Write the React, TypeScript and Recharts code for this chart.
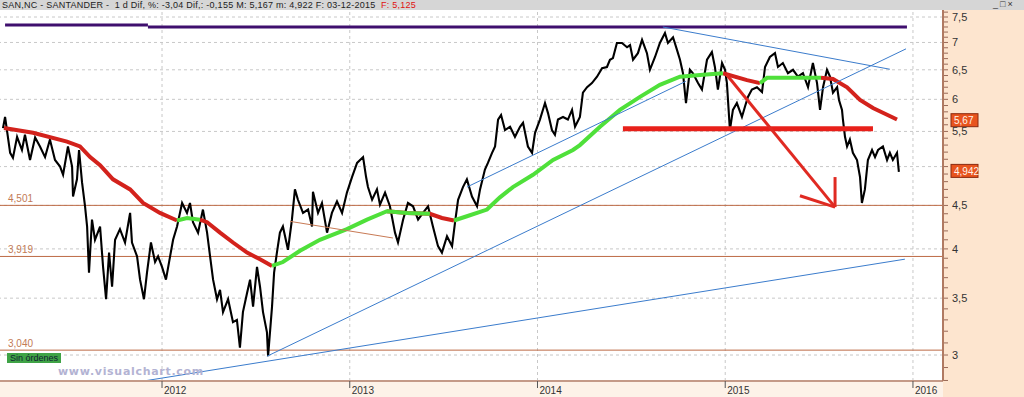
import React from "react"
import { ComposedChart, Line, XAxis, YAxis, ReferenceLine, ReferenceDot } from "recharts"

const W = 1024
const H = 397

// dates as decimal years, closes (roughly weekly)
const priceDates = [
  2011.153, 2011.164, 2011.191, 2011.206, 2011.228, 2011.254, 2011.27, 2011.297, 2011.324, 2011.35,
  2011.377, 2011.403, 2011.43, 2011.457, 2011.473, 2011.499, 2011.521, 2011.526, 2011.547, 2011.558,
  2011.574, 2011.59, 2011.601, 2011.611, 2011.627, 2011.643, 2011.67, 2011.686, 2011.702, 2011.718,
  2011.734, 2011.75, 2011.776, 2011.803, 2011.83, 2011.84, 2011.867, 2011.883, 2011.904, 2011.92,
  2011.941, 2011.963, 2011.979, 2012.0, 2012.021, 2012.043, 2012.059, 2012.08, 2012.107, 2012.133,
  2012.149, 2012.165, 2012.192, 2012.218, 2012.24, 2012.256, 2012.272, 2012.293, 2012.309, 2012.325,
  2012.352, 2012.378, 2012.399, 2012.415, 2012.431, 2012.453, 2012.469, 2012.485, 2012.506, 2012.522,
  2012.538, 2012.559, 2012.565, 2012.586, 2012.597, 2012.612, 2012.628, 2012.644, 2012.671, 2012.692,
  2012.708, 2012.724, 2012.751, 2012.778, 2012.799, 2012.804, 2012.831, 2012.852, 2012.879, 2012.905,
  2012.932, 2012.959, 2012.985, 2013.012, 2013.039, 2013.071, 2013.087, 2013.097, 2013.119, 2013.145,
  2013.161, 2013.188, 2013.214, 2013.241, 2013.257, 2013.284, 2013.31, 2013.337, 2013.364, 2013.39,
  2013.417, 2013.443, 2013.47, 2013.491, 2013.518, 2013.545, 2013.561, 2013.577, 2013.603, 2013.624,
  2013.651, 2013.678, 2013.694, 2013.72, 2013.736, 2013.758, 2013.774, 2013.79, 2013.806, 2013.827,
  2013.854, 2013.88, 2013.907, 2013.923, 2013.949, 2013.971, 2013.987, 2014.013, 2014.04, 2014.056,
  2014.077, 2014.093, 2014.109, 2014.136, 2014.162, 2014.184, 2014.2, 2014.226, 2014.242, 2014.264,
  2014.29, 2014.317, 2014.344, 2014.37, 2014.386, 2014.402, 2014.423, 2014.45, 2014.477, 2014.493,
  2014.509, 2014.535, 2014.557, 2014.583, 2014.599, 2014.626, 2014.652, 2014.679, 2014.695, 2014.722,
  2014.743, 2014.759, 2014.775, 2014.791, 2014.812, 2014.828, 2014.855, 2014.876, 2014.903, 2014.929,
  2014.945, 2014.961, 2014.983, 2014.999, 2015.009, 2015.025, 2015.041, 2015.062, 2015.089, 2015.105,
  2015.121, 2015.142, 2015.169, 2015.196, 2015.212, 2015.238, 2015.265, 2015.281, 2015.307, 2015.334,
  2015.361, 2015.387, 2015.414, 2015.441, 2015.467, 2015.489, 2015.505, 2015.521, 2015.542, 2015.558,
  2015.574, 2015.596, 2015.606, 2015.622, 2015.627, 2015.638, 2015.649, 2015.664, 2015.68, 2015.702,
  2015.718, 2015.728, 2015.744, 2015.76, 2015.782, 2015.798, 2015.814, 2015.84, 2015.862, 2015.877,
  2015.893, 2015.915, 2015.925,
]
const priceClose = [
  5.55, 5.72, 5.19, 5.12, 5.42, 5.23, 5.45, 5.09, 5.41, 5.28,
  5.13, 5.38, 5.09, 5.0, 4.89, 5.28, 5.0, 4.61, 4.83, 5.23,
  4.79, 4.49, 4.25, 3.75, 4.33, 4.1, 4.25, 3.81, 3.49, 3.96,
  3.61, 4.1, 4.22, 4.07, 4.41, 4.07, 3.92, 3.68, 3.49, 3.75,
  4.07, 3.86, 3.92, 3.81, 3.68, 3.92, 4.1, 4.25, 4.53, 4.41,
  4.53, 4.3, 4.18, 4.45, 4.18, 3.92, 3.68, 3.49, 3.58, 3.37,
  3.49, 3.28, 3.3, 3.06, 3.37, 3.55, 3.68, 3.42, 3.81, 3.61,
  3.37, 3.19, 2.99, 3.42, 3.75, 3.96, 4.18, 4.25, 3.99, 4.33,
  4.7, 4.57, 4.41, 4.45, 4.25, 4.67, 4.41, 4.53, 4.18, 4.41,
  4.55, 4.41, 4.66, 4.86, 5.05, 5.13, 4.86, 4.73, 4.57, 4.7,
  4.51, 4.66, 4.49, 4.18, 4.07, 4.33, 4.53, 4.49, 4.33, 4.41,
  4.49, 4.25, 4.03, 3.96, 4.14, 4.03, 4.3, 4.57, 4.73, 4.83,
  4.61, 4.49, 4.7, 4.96, 5.05, 5.19, 5.28, 5.68, 5.75, 5.52,
  5.57, 5.42, 5.57, 5.63, 5.28, 5.19, 5.48, 5.68, 5.94, 5.78,
  5.52, 5.45, 5.68, 5.72, 5.68, 5.83, 5.57, 5.72, 6.11, 6.2,
  6.27, 6.38, 6.53, 6.55, 6.68, 6.71, 6.99, 6.99, 6.91, 6.95,
  6.68, 6.8, 7.05, 6.8, 6.5, 6.73, 6.99, 7.18, 6.99, 7.1,
  6.86, 6.68, 6.44, 5.94, 6.5, 6.44, 6.27, 6.16, 6.68, 6.82,
  6.55, 6.16, 6.62, 6.5, 6.27, 5.52, 5.83, 5.94, 5.72, 5.88,
  6.04, 6.16, 6.2, 6.12, 6.55, 6.73, 6.8, 6.55, 6.62, 6.44,
  6.5, 6.38, 6.44, 6.2, 6.62, 6.27, 5.83, 6.2, 6.5, 6.38,
  6.11, 6.2, 5.99, 5.83, 5.68, 5.42, 5.28, 5.38, 5.19, 5.09,
  4.86, 4.53, 4.7, 5.09, 5.23, 5.13, 5.23, 5.28, 5.09, 5.19,
  5.09, 5.19, 4.93,
]

// moving average, with the trend flag of each leg (u = price above, d = below)
const maDates = [
  2011.158, 2011.313, 2011.494, 2011.563, 2011.617, 2011.67, 2011.739, 2011.83, 2011.899, 2011.989,
  2012.08, 2012.133, 2012.202, 2012.24, 2012.309, 2012.378, 2012.453, 2012.522, 2012.586, 2012.644,
  2012.735, 2012.841, 2012.985, 2013.092, 2013.198, 2013.305, 2013.427, 2013.491, 2013.555, 2013.624,
  2013.731, 2013.8, 2013.869, 2013.976, 2014.083, 2014.189, 2014.226, 2014.333, 2014.439, 2014.546,
  2014.652, 2014.759, 2014.865, 2014.988, 2015.116, 2015.185, 2015.223, 2015.361, 2015.51, 2015.574,
  2015.649, 2015.718, 2015.787, 2015.851, 2015.915,
]
const maValues = [
  5.55, 5.48, 5.35, 5.28, 5.13, 5.02, 4.83, 4.7, 4.53, 4.41,
  4.32, 4.35, 4.33, 4.3, 4.18, 4.07, 3.96, 3.89, 3.82, 3.86,
  3.98, 4.1, 4.22, 4.33, 4.43, 4.41, 4.4, 4.35, 4.32, 4.37,
  4.45, 4.6, 4.73, 4.89, 5.09, 5.23, 5.3, 5.57, 5.83, 6.04,
  6.24, 6.38, 6.41, 6.44, 6.32, 6.27, 6.36, 6.36, 6.36, 6.34,
  6.2, 5.99, 5.86, 5.77, 5.68,
]
const maTrend = [
  "d", "d", "d", "d", "d", "d", "d", "d", "d", "d",
  "u", "u", "d", "d", "d", "d", "d", "d", "u", "u",
  "u", "u", "u", "u", "d", "u", "d", "d", "u", "u",
  "u", "u", "u", "u", "u", "u", "u", "u", "u", "u",
  "u", "u", "u", "d", "d", "u", "u", "u", "d", "d",
  "d", "d", "d", "d", "d",
]

// drawn lines: [date1, price1, date2, price2]
const blueTrends = [
  [2011.92, 2.8, 2015.957, 3.89],
  [2012.559, 2.99, 2015.963, 6.88],
  [2013.624, 4.73, 2014.79, 6.3],
  [2014.668, 7.3, 2015.877, 6.51],
]
const brownTrend = [2012.682, 4.31, 2013.23, 4.12]
const purpleLevels = [
  [2011.164, 7.34, 2011.925, 7.34],
  [2011.925, 7.3, 2015.968, 7.3],
]
const supportLine = [2014.455, 5.54, 2015.787, 5.54]
const arrowLines = [
  [2015.009, 6.41, 2015.585, 4.48],
  [2015.585, 4.48, 2015.585, 4.86],
  [2015.585, 4.48, 2015.398, 4.62],
]
const levels = [4.501, 3.919, 3.04]
const levelLabels = ["4,501", "3,919", "3,040"]

const yTicks = [
  2.8, 2.9, 3, 3.1, 3.2, 3.3, 3.4, 3.5, 3.6, 3.7, 3.8, 3.9, 4, 4.1, 4.2, 4.3, 4.4, 4.5, 4.6, 4.7,
  4.8, 4.9, 5, 5.1, 5.2, 5.3, 5.4, 5.5, 5.6, 5.7, 5.8, 5.9, 6, 6.1, 6.2, 6.3, 6.4, 6.5, 6.6, 6.7,
  6.8, 6.9, 7, 7.1, 7.2, 7.3, 7.4, 7.5, 7.6,
]
// "5" sits under the last-price badge, so it is not written
const yLabelled = [3, 3.5, 4, 4.5, 5.5, 6, 6.5, 7, 7.5]
const yGrid = [3, 3.5, 4, 4.5, 5, 5.5, 6, 6.5, 7, 7.5]
const xTicks = [2012, 2013, 2014, 2015, 2016]

const lastMa = 5.67
const lastPrice = 4.942

const priceRows = priceDates.map((t, i) => ({ t, v: priceClose[i] }))
const maRows = maDates.map((t, i) => {
  const up = maTrend[i] === "u" || maTrend[i - 1] === "u"
  const down = maTrend[i] === "d" || maTrend[i - 1] === "d"
  return { t, up: up ? maValues[i] : null, down: down ? maValues[i] : null }
})

const fmt = (v: number) => String(v).replace(".", ",")

const YTick = ({ x, y, payload }: any) => {
  const labelled = yLabelled.some((m) => Math.abs(m - payload.value) < 1e-6)
  return (
    <g>
      <line x1={x + 1} x2={x + 5} y1={y} y2={y} stroke="#9a6a58" strokeWidth={1} />
      {labelled && (
        <text x={x + 9} y={y + 4} fontSize={11} fill="#333" fontFamily="Liberation Sans, Arial, sans-serif">
          {fmt(payload.value)}
        </text>
      )}
    </g>
  )
}

const XTick = ({ x, y, payload }: any) => (
  <g>
    <line x1={x} x2={x} y1={y} y2={y + 7} stroke="#555" />
    <text x={x + 2} y={y + 13} fontSize={10} fill="#333" fontFamily="Liberation Sans, Arial, sans-serif">
      {payload.value}
    </text>
  </g>
)

const seg = (s: number[]) => [
  { x: s[0], y: s[1] },
  { x: s[2], y: s[3] },
]

const Badge = ({ cx, cy, text }: any) => (
  <g>
    <rect x={cx + 8} y={cy - 6.5} width={27} height={13} fill="#e8541e" stroke="#8a2a10" />
    <text x={cx + 11} y={cy + 4} fontSize={10} fill="#fff3e8" fontFamily="Liberation Sans, Arial, sans-serif">
      {text}
    </text>
  </g>
)

export default function App() {
  return (
    <div
      style={{
        position: "fixed",
        left: 0,
        top: 0,
        width: W,
        height: H,
        background: "#fff",
        overflow: "hidden",
        fontFamily: '"Liberation Sans", Arial, sans-serif',
      }}
    >
      <div style={{ position: "absolute", left: 943, top: 10, width: 81, height: 387, background: "#fde5cf" }} />
      <div style={{ position: "absolute", left: 0, top: 381, width: 943, height: 16, background: "#fdf2e8" }} />
      <ComposedChart
        width={W}
        height={H}
        margin={{ top: 10, right: 0, bottom: 0, left: 0 }}
        style={{ position: "absolute", left: 0, top: 0 }}
      >
        <XAxis
          type="number"
          dataKey="t"
          domain={[2011.137, 2016.16]}
          allowDataOverflow
          ticks={xTicks}
          interval={0}
          height={16}
          tickSize={0}
          tickMargin={0}
          axisLine={{ stroke: "#c49a88", strokeWidth: 2 }}
          tickLine={false}
          tick={<XTick />}
        />
        <YAxis
          orientation="right"
          scale="log"
          domain={[2.796, 7.644]}
          allowDataOverflow
          ticks={yTicks}
          interval={0}
          width={81}
          tickSize={0}
          tickMargin={0}
          axisLine={{ stroke: "#b07a62", strokeWidth: 2 }}
          tickLine={false}
          tick={<YTick />}
        />

        {yGrid.map((v) => (
          <ReferenceLine key={"gy" + v} y={v} stroke="#c8c8c8" strokeDasharray="3 3" />
        ))}
        {xTicks.map((t) => (
          <ReferenceLine key={"gx" + t} x={t} stroke="#c8c8c8" strokeDasharray="3 3" />
        ))}
        {levels.map((v, i) => (
          <ReferenceLine
            key={"lv" + v}
            y={v}
            stroke="#bd6a45"
            strokeWidth={1}
            label={(p: any) => (
              <text x={p.viewBox.x + 8} y={p.viewBox.y - 3} fontSize={10} fill="#c27a55">
                {levelLabels[i]}
              </text>
            )}
          />
        ))}
        {purpleLevels.map((s, i) => (
          <ReferenceLine key={"pl" + i} segment={seg(s)} stroke="#3f0f6e" strokeWidth={3} />
        ))}

        <Line
          data={priceRows}
          dataKey="v"
          stroke="#000"
          strokeWidth={2.1}
          dot={false}
          isAnimationActive={false}
        />
        <Line
          data={maRows}
          dataKey="down"
          stroke="#d3221c"
          strokeWidth={4}
          dot={false}
          connectNulls={false}
          isAnimationActive={false}
        />
        <Line
          data={maRows}
          dataKey="up"
          stroke="#4fe03a"
          strokeWidth={4}
          dot={false}
          connectNulls={false}
          isAnimationActive={false}
        />

        {blueTrends.map((s, i) => (
          <ReferenceLine key={"bt" + i} segment={seg(s)} stroke="#3b7ccc" strokeWidth={1} />
        ))}
        <ReferenceLine segment={seg(brownTrend)} stroke="#c87a55" strokeWidth={1} />
        <ReferenceLine segment={seg(supportLine)} stroke="#e8201a" strokeWidth={5} />
        {arrowLines.map((s, i) => (
          <ReferenceLine key={"ar" + i} segment={seg(s)} stroke="#e02a22" strokeWidth={3} />
        ))}

        <ReferenceDot
          x={2016.16}
          y={lastMa}
          r={0}
          ifOverflow="visible"
          shape={(p: any) => <Badge cx={p.cx} cy={p.cy} text={fmt(lastMa)} />}
        />
        <ReferenceDot
          x={2016.16}
          y={lastPrice}
          r={0}
          ifOverflow="visible"
          shape={(p: any) => <Badge cx={p.cx} cy={p.cy} text={fmt(lastPrice)} />}
        />
      </ComposedChart>

      <div
        style={{
          position: "absolute",
          left: 0,
          top: 0,
          width: W,
          height: 10,
          background: "#d6d6d6",
          fontSize: 9,
          lineHeight: "10px",
          color: "#222",
          whiteSpace: "pre",
          paddingLeft: 2,
          letterSpacing: 0.25,
        }}
      >
        {"SAN,NC - SANTANDER -  1 d Dif, %: -3,04 Dif,: -0,155 M: 5,167 m: 4,922 F: 03-12-2015  "}
        <span style={{ color: "#e01010" }}>F: 5,125</span>
      </div>
      <div
        style={{
          position: "absolute",
          left: 993,
          top: -1,
          fontSize: 9,
          lineHeight: "10px",
          color: "#333",
          letterSpacing: 2,
        }}
      >
        _□×
      </div>
      <div
        style={{
          position: "absolute",
          left: 7,
          top: 353,
          width: 54,
          height: 10,
          background: "#3fa346",
          color: "#123",
          fontSize: 9,
          lineHeight: "10px",
          textAlign: "center",
        }}
      >
        Sin órdenes
      </div>
      <div
        style={{
          position: "absolute",
          left: 58,
          top: 365,
          fontSize: 11,
          fontWeight: "bold",
          fontFamily: '"DejaVu Sans", sans-serif',
          color: "#b3b3d3",
          letterSpacing: 0.7,
        }}
      >
        www.visualchart.com
      </div>
    </div>
  )
}
